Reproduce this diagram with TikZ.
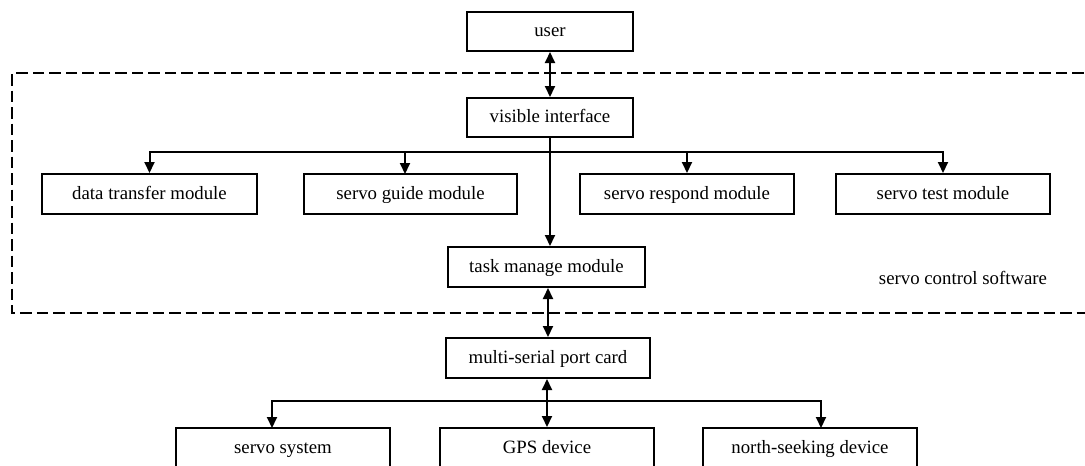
\documentclass[tikz,border=0pt]{standalone}
\usepackage{fontspec}
\setmainfont{Liberation Serif}
\usetikzlibrary{arrows.meta,calc}
\tikzset{
  label font/.style={font=\fontsize{18.8}{22}\selectfont},
  box/.style={draw, line width=2pt, inner sep=0pt, minimum height=40pt,
    label font, text height=13pt, text depth=3pt},
  link/.style={line width=2pt},
  tip/.style={-{Triangle[length=11pt,width=10pt]}},
  both/.style={{Triangle[length=11pt,width=10pt]}-{Triangle[length=11pt,width=10pt]}},
  frame/.style={line width=2.2pt, dash pattern=on 11.5pt off 5pt},
}
\begin{document}
\begin{tikzpicture}[x=1pt,y=-1pt]
\useasboundingbox (0,0) rectangle (1085,466);

% software boundary
\draw[frame] (1100,73) -- (12,73) -- (12,313) -- (1100,313);
\node[label font] (sw) at (963,278) {servo control software};

% nodes
\node[box, minimum width=166pt, minimum height=39pt] (user) at (550,31.5) {user};
\node[box, minimum width=166pt, minimum height=39pt] (vi) at (550,117.5) {visible interface};
\node[box, minimum width=215pt] (dt) at (149.5,194) {data transfer module};
\node[box, minimum width=213pt] (sg) at (410.5,194) {servo guide module};
\node[box, minimum width=214pt] (sr) at (687,194) {servo respond module};
\node[box, minimum width=214pt] (st) at (943,194) {servo test module};
\node[box, minimum width=197pt] (tm) at (546.5,267) {task manage module};
\node[box, minimum width=204pt] (msp) at (548,358) {multi-serial port card};
\node[box, minimum width=214pt] (ss) at (283,448) {servo system};
\node[box, minimum width=214pt] (gps) at (547,448) {GPS device};
\node[box, minimum width=214pt] (ns) at (810,448) {north-seeking device};

% bus junctions
\coordinate (busA) at (550,152);
\coordinate (busB) at (547,401);
\coordinate (sgIn) at (405,174);
\coordinate (ssIn) at (272,428);
\coordinate (nsIn) at (821,428);

% connectors
\draw[link,both] (user) -- (vi);
\draw[link] (vi.south) -- (busA);
\draw[link,tip] (busA) -| (dt.north);
\draw[link,tip] (busA) -| (sgIn);
\draw[link,tip] (busA) -| (sr.north);
\draw[link,tip] (busA) -| (st.north);
\draw[link,tip] (busA) -- (busA |- tm.north);
\draw[link,both] (tm.south -| msp) -- (msp.north);
\draw[link,both] (msp.south -| gps) -- (gps.north);
\draw[link,tip] (busB) -| (ssIn);
\draw[link,tip] (busB) -| (nsIn);
\end{tikzpicture}
\end{document}
